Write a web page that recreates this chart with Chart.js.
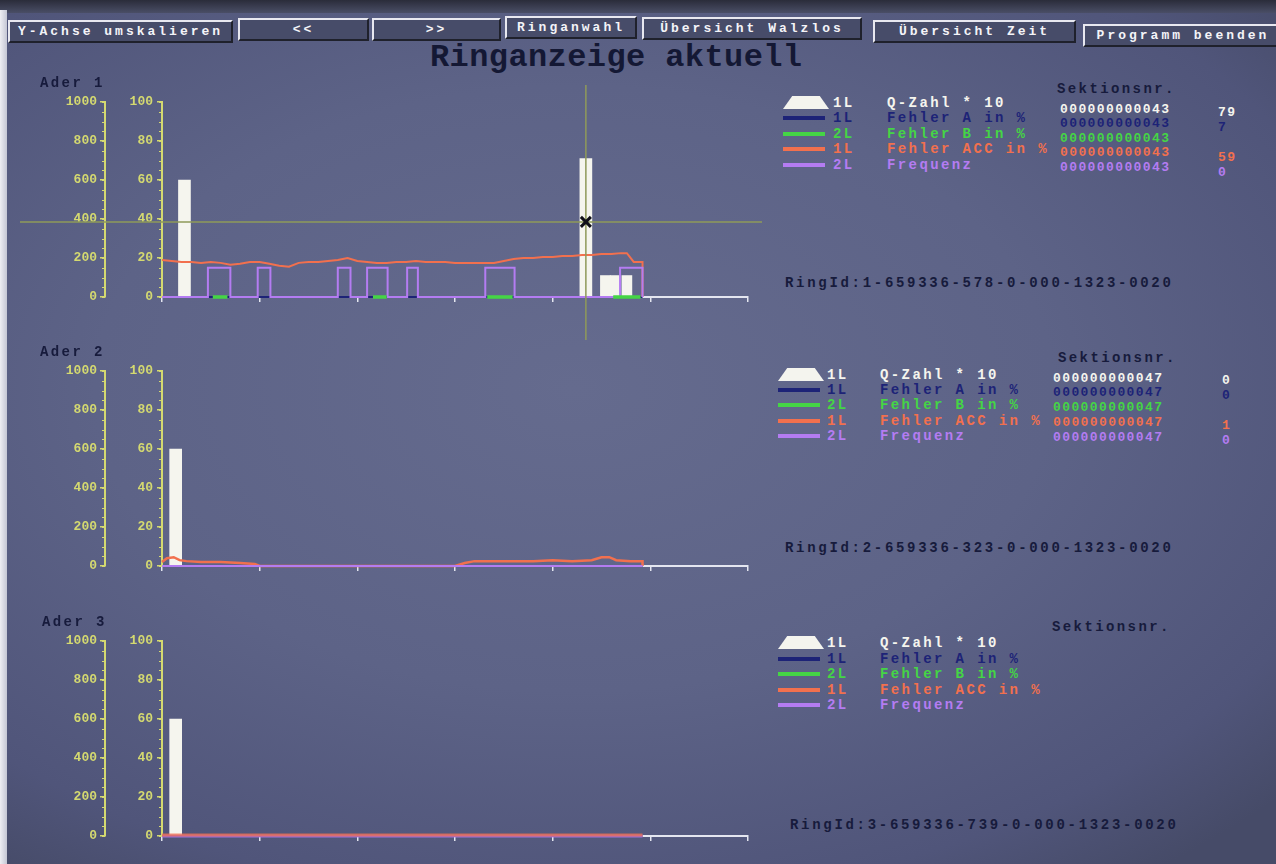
<!DOCTYPE html>
<html>
<head>
<meta charset="utf-8">
<title>Ringanzeige aktuell</title>
<script src="https://cdn.jsdelivr.net/npm/chart.js@4.4.1/dist/chart.umd.min.js"></script>
<style>
  html, body { margin: 0; padding: 0; }
  body {
    width: 1276px; height: 864px; overflow: hidden; position: relative;
    background: radial-gradient(ellipse 75% 70% at 45% 45%, #656b8e 0%, #5d6387 50%, #50557a 85%, #464b68 100%);
    font-family: "Liberation Mono", "DejaVu Sans Mono", monospace; font-weight: bold;
  }
  .edgeTop { position: absolute; left: 0; top: 0; width: 1276px; height: 13px; background: linear-gradient(#2a2c3a, #4a4e66); }
  .edgeLeft { position: absolute; left: 0; top: 10px; width: 7px; height: 854px; background: linear-gradient(90deg, #eeeef3, #c4c6d4); }
  .btn {
    position: absolute; box-sizing: border-box; height: 23px;
    background: #474c69; color: #f4f4f8; font-size: 13px; letter-spacing: 3px;
    line-height: 19px; text-align: center; white-space: nowrap; overflow: hidden;
    border-top: 2px solid #e8e8f0; border-left: 2px solid #e8e8f0;
    border-right: 2px solid #1f212c; border-bottom: 2px solid #1f212c;
  }
  .title { position: absolute; left: 430px; top: 42px; font-size: 32px; line-height: 32px; color: #141834; letter-spacing: 0.4px; white-space: nowrap; }
  .txt { position: absolute; white-space: nowrap; font-size: 14px; line-height: 14px; letter-spacing: 2.4px; }
  .navy { color: #171b3c; }
  .val { position: absolute; white-space: nowrap; font-size: 13px; line-height: 13px; letter-spacing: 1.4px; }
  .icon { position: absolute; width: 42px; height: 4px; }
  .trap { position: absolute; width: 46px; height: 13px; background: #f4f4ee; clip-path: polygon(20% 0, 80% 0, 100% 100%, 0 100%); }
  .panel { position: absolute; left: 0; width: 770px; height: 262px; }
</style>
</head>
<body>
<div class="edgeTop"></div>
<div class="edgeLeft"></div>

<div class="btn" style="left:8px;top:20px;width:225px;">Y-Achse umskalieren</div>
<div class="btn" style="left:238px;top:18px;width:131px;">&lt;&lt;</div>
<div class="btn" style="left:372px;top:18px;width:129px;">&gt;&gt;</div>
<div class="btn" style="left:505px;top:16px;width:132px;">Ringanwahl</div>
<div class="btn" style="left:642px;top:17px;width:220px;">Übersicht Walzlos</div>
<div class="btn" style="left:873px;top:20px;width:203px;">Übersicht Zeit</div>
<div class="btn" style="left:1083px;top:24px;width:200px;">Programm beenden</div>

<div class="title">Ringanzeige aktuell</div>

<div class="panel" style="top:78px;"><canvas id="c1" width="770" height="262"></canvas></div>
<div class="panel" style="top:347px;"><canvas id="c2" width="770" height="262"></canvas></div>
<div class="panel" style="top:617px;"><canvas id="c3" width="770" height="262"></canvas></div>

<div id="texts"></div>

<script>
// ---- series and labels ----
const seriesNames = ['Q-Zahl * 10', 'Fehler A in %', 'Fehler B in %', 'Fehler ACC in %', 'Frequenz'];
const seriesLayer = ['1L', '1L', '2L', '1L', '2L'];
const aderNames = ['Ader 1', 'Ader 2', 'Ader 3'];
const ringIds = [
  'RingId:1-659336-578-0-000-1323-0020',
  'RingId:2-659336-323-0-000-1323-0020',
  'RingId:3-659336-739-0-000-1323-0020'
];
const sektionTitle = 'Sektionsnr.';
const sektion1 = ['000000000043', '000000000043', '000000000043', '000000000043', '000000000043'];
const current1 = ['79', '7', '', '59', '0'];
const sektion2 = ['000000000047', '000000000047', '000000000047', '000000000047', '000000000047'];
const current2 = ['0', '0', '', '1', '0'];

// Ader 1
const qX1 = [23, 434];
const qY1 = [600, 710];
const qSmallX1 = [454, 464, 476];
const qSmallY1 = [110, 110, 110];
const faX1 = [0, 492];
const faY1 = [0, 0];
const fbX1 = [52, 67, 67, 216, 230, 230, 333, 359, 359, 462, 490];
const fbY1 = [0, 0, null, 0, 0, null, 0, 0, null, 0, 0];
const accX1 = [0, 10, 20, 30, 40, 50, 60, 70, 80, 90, 100, 110, 120, 130, 140, 150, 160, 170, 180, 190,
  200, 210, 220, 230, 240, 250, 260, 270, 280, 290, 300, 310, 320, 330, 340, 350, 360, 370, 380, 390,
  400, 410, 420, 430, 440, 450, 460, 470, 476, 483, 492, 492];
const accY1 = [19, 18.5, 18, 18, 17.5, 18, 17.5, 16.5, 17, 18, 18, 17, 16, 15.5, 17.5, 18, 18, 18.5, 19, 20,
  18.5, 18, 17.5, 17.5, 18, 18, 18.5, 18, 18, 18, 17.5, 17.5, 17.5, 17.5, 17.5, 18.5, 19.5, 20, 20, 20.5,
  20.5, 21, 21, 21.5, 21.5, 22, 22, 22.5, 22.5, 18, 18, 0];
const freqX1 = [0, 47, 47, 70, 70, 98, 98, 111, 111, 180, 180, 193, 193, 210, 210, 231, 231, 251, 251, 262, 262,
  331, 331, 361, 361, 469, 469, 492, 492];
const freqY1 = [0, 0, 15, 15, 0, 0, 15, 15, 0, 0, 15, 15, 0, 0, 15, 15, 0, 0, 15, 15, 0,
  0, 15, 15, 0, 0, 15, 15, 0];
const cursorX1 = 434;
const cursorY1 = 38.5;

// Ader 2
const qX2 = [14];
const qY2 = [600];
const faX2 = [0, 492];
const faY2 = [0, 0];
const accX2 = [0, 5, 12, 18, 25, 40, 60, 80, 95, 100, 300, 310, 320, 350, 380, 400, 420, 440, 450, 458, 465, 480, 492, 492];
const accY2 = [2, 4, 4.5, 3, 2.5, 2, 2, 1.5, 1, 0, 0, 1.5, 2.5, 2.5, 2.5, 3, 2.5, 3, 4.5, 4.5, 3, 2.5, 2.5, 0];
const freqX2 = [0, 492];
const freqY2 = [0, 0];

// Ader 3
const qX3 = [14];
const qY3 = [600];
const faX3 = [0, 492];
const faY3 = [0, 0];
const accX3 = [0, 492];
const accY3 = [0.5, 0.5];
const freqX3 = [0, 492];
const freqY3 = [0, 0];

// ---- styling ----
const COL = {
  q: '#f5f5ee', a: '#1d2377', b: '#45d545', acc: '#f2704e', freq: '#b47cf2',
  axis: '#d4d970', xaxis: '#e4e6f0', cross: '#8f9a5a'
};
const seriesColors = [COL.q, COL.a, COL.b, COL.acc, COL.freq];
const monoFont = "'Liberation Mono', 'DejaVu Sans Mono', monospace";

const pts = (xs, ys) => xs.map((x, i) => ({ x: x, y: ys[i] }));

// small intermediate tick marks along the two value axes
const minorTicks = {
  id: 'minorTicks',
  afterDraw(chart) {
    const ctx = chart.ctx;
    ctx.save();
    ctx.strokeStyle = COL.axis;
    ctx.lineWidth = 1;
    [['yQ', 50], ['yP', 5]].forEach(([id, step]) => {
      const s = chart.scales[id];
      if (!s) return;
      for (let v = s.min; v <= s.max; v += step) {
        const y = Math.round(s.getPixelForValue(v)) + 0.5;
        ctx.beginPath();
        ctx.moveTo(s.right - 3, y);
        ctx.lineTo(s.right, y);
        ctx.stroke();
      }
    });
    ctx.restore();
  }
};

// measurement cursor: crossing lines plus an x marker
const crosshair = {
  id: 'crosshair',
  afterDatasetsDraw(chart, args, opts) {
    if (!opts || opts.x == null) return;
    const ctx = chart.ctx;
    const px = chart.scales.x.getPixelForValue(opts.x);
    const py = chart.scales.yP.getPixelForValue(opts.y);
    ctx.save();
    ctx.strokeStyle = COL.cross;
    ctx.lineWidth = 1.5;
    ctx.beginPath();
    ctx.moveTo(20, py); ctx.lineTo(chart.width - 8, py);
    ctx.moveTo(px, 7); ctx.lineTo(px, chart.height);
    ctx.stroke();
    const r = 5;
    ctx.strokeStyle = '#101018';
    ctx.lineWidth = 3;
    ctx.beginPath();
    ctx.moveTo(px - r, py - r); ctx.lineTo(px + r, py + r);
    ctx.moveTo(px + r, py - r); ctx.lineTo(px - r, py + r);
    ctx.stroke();
    ctx.restore();
  }
};

function lineSet(label, xs, ys, color, width, order) {
  return {
    type: 'line', label: label, data: pts(xs, ys), yAxisID: 'yP', xAxisID: 'x',
    borderColor: color, borderWidth: width, pointRadius: 0, tension: 0,
    spanGaps: false, clip: 6, order: order
  };
}
function barSet(label, xs, ys, thickness) {
  return {
    type: 'bar', label: label, data: pts(xs, ys), yAxisID: 'yQ', xAxisID: 'x',
    backgroundColor: COL.q, borderWidth: 0, barThickness: thickness,
    grouped: false, order: 5
  };
}

function makeChart(id, datasets, cursor) {
  const tickFont = { family: monoFont, weight: 'bold', size: 13 };
  const plain = v => String(v);
  return new Chart(document.getElementById(id), {
    type: 'bar',
    data: { datasets: datasets },
    options: {
      responsive: false, animation: false, devicePixelRatio: 1,
      layout: { padding: { top: 24, bottom: 35, left: 0, right: 22 } },
      plugins: {
        legend: { display: false }, tooltip: { enabled: false },
        crosshair: cursor || {}
      },
      scales: {
        x: {
          type: 'linear', position: 'bottom', min: 0, max: 600, offset: false,
          afterFit(s) { s.height = 8; },
          ticks: { display: false, stepSize: 100 },
          grid: { offset: false, drawOnChartArea: false, drawTicks: true, tickLength: 5, color: COL.xaxis, lineWidth: 1.5 },
          border: { color: COL.xaxis, width: 2 }
        },
        yQ: {
          type: 'linear', position: 'left', min: 0, max: 1000, weight: 1,
          afterFit(s) { s.width = 105; },
          ticks: { stepSize: 200, padding: 3, color: COL.axis, font: tickFont, callback: plain },
          grid: { drawOnChartArea: false, tickLength: 5, color: COL.axis, lineWidth: 1.5 },
          border: { color: COL.axis, width: 2 }
        },
        yP: {
          type: 'linear', position: 'left', min: 0, max: 100, weight: 0,
          afterFit(s) { s.width = 57; },
          ticks: { stepSize: 20, padding: 4, color: COL.axis, font: tickFont, callback: plain },
          grid: { drawOnChartArea: false, tickLength: 5, color: COL.axis, lineWidth: 1.5 },
          border: { color: COL.axis, width: 2 }
        }
      }
    },
    plugins: [minorTicks, crosshair]
  });
}

makeChart('c1', [
  barSet(seriesNames[0], qX1, qY1, 12),
  barSet(seriesNames[0], qSmallX1, qSmallY1, 10),
  lineSet(seriesNames[1], faX1, faY1, COL.a, 2, 4),
  lineSet(seriesNames[3], accX1, accY1, COL.acc, 2, 2),
  lineSet(seriesNames[4], freqX1, freqY1, COL.freq, 2, 1),
  lineSet(seriesNames[2], fbX1, fbY1, COL.b, 3.5, 0)
], { x: cursorX1, y: cursorY1 });

makeChart('c2', [
  barSet(seriesNames[0], qX2, qY2, 12),
  lineSet(seriesNames[1], faX2, faY2, COL.a, 2, 4),
  lineSet(seriesNames[3], accX2, accY2, COL.acc, 2.5, 2),
  lineSet(seriesNames[4], freqX2, freqY2, COL.freq, 2, 1)
]);

// the two traces of Ader 3 lie on top of each other near zero, so they blend
makeChart('c3', [
  barSet(seriesNames[0], qX3, qY3, 12),
  lineSet(seriesNames[1], faX3, faY3, COL.a, 2, 4),
  lineSet(seriesNames[3], accX3, accY3, 'rgba(242,112,78,0.75)', 3, 1),
  lineSet(seriesNames[4], freqX3, freqY3, 'rgba(180,124,242,0.8)', 3, 2)
]);

// ---- text blocks beside each panel ----
const panelText = [
  { ader: [40, 83], ring: [785, 283], title: [1057, 89], rowY: 103, step: 15.4, icon: 783, layer: 833, label: 887,
    sekt: sektion1, sektX: 1060, sektY: 109, sektStep: 14.6, cur: current1, curX: 1218, curY: 112, curStep: 15 },
  { ader: [40, 352], ring: [785, 548], title: [1058, 358], rowY: 375, step: 15.2, icon: 778, layer: 827, label: 880,
    sekt: sektion2, sektX: 1053, sektY: 378, sektStep: 14.8, cur: current2, curX: 1222, curY: 380, curStep: 15 },
  { ader: [42, 622], ring: [790, 825], title: [1052, 627], rowY: 643, step: 15.6, icon: 778, layer: 827, label: 880,
    sekt: null, cur: null }
];

const host = document.getElementById('texts');
function addDiv(cls, text, x, cy, color, h) {
  const d = document.createElement('div');
  d.className = cls;
  d.textContent = text;
  d.style.left = x + 'px';
  d.style.top = (cy - (h || 7)) + 'px';
  if (color) d.style.color = color;
  host.appendChild(d);
  return d;
}

panelText.forEach((p, k) => {
  addDiv('txt navy', aderNames[k], p.ader[0], p.ader[1]);
  addDiv('txt navy', ringIds[k], p.ring[0], p.ring[1]).style.letterSpacing = '2.7px';
  addDiv('txt navy', sektionTitle, p.title[0], p.title[1]);
  seriesNames.forEach((name, i) => {
    const cy = p.rowY + i * p.step;
    if (i === 0) {
      const t = document.createElement('div');
      t.className = 'trap';
      t.style.left = p.icon + 'px';
      t.style.top = (cy - 7) + 'px';
      host.appendChild(t);
    } else {
      const l = document.createElement('div');
      l.className = 'icon';
      l.style.left = p.icon + 'px';
      l.style.top = (cy - 2) + 'px';
      l.style.background = seriesColors[i];
      host.appendChild(l);
    }
    addDiv('txt', seriesLayer[i], p.layer, cy, seriesColors[i]);
    addDiv('txt', name, p.label, cy, seriesColors[i]);
    if (p.sekt) addDiv('val', p.sekt[i], p.sektX, p.sektY + i * p.sektStep, seriesColors[i], 6.5);
    if (p.cur && p.cur[i]) addDiv('val', p.cur[i], p.curX, p.curY + i * p.curStep, seriesColors[i], 6.5);
  });
});
</script>
</body>
</html>
